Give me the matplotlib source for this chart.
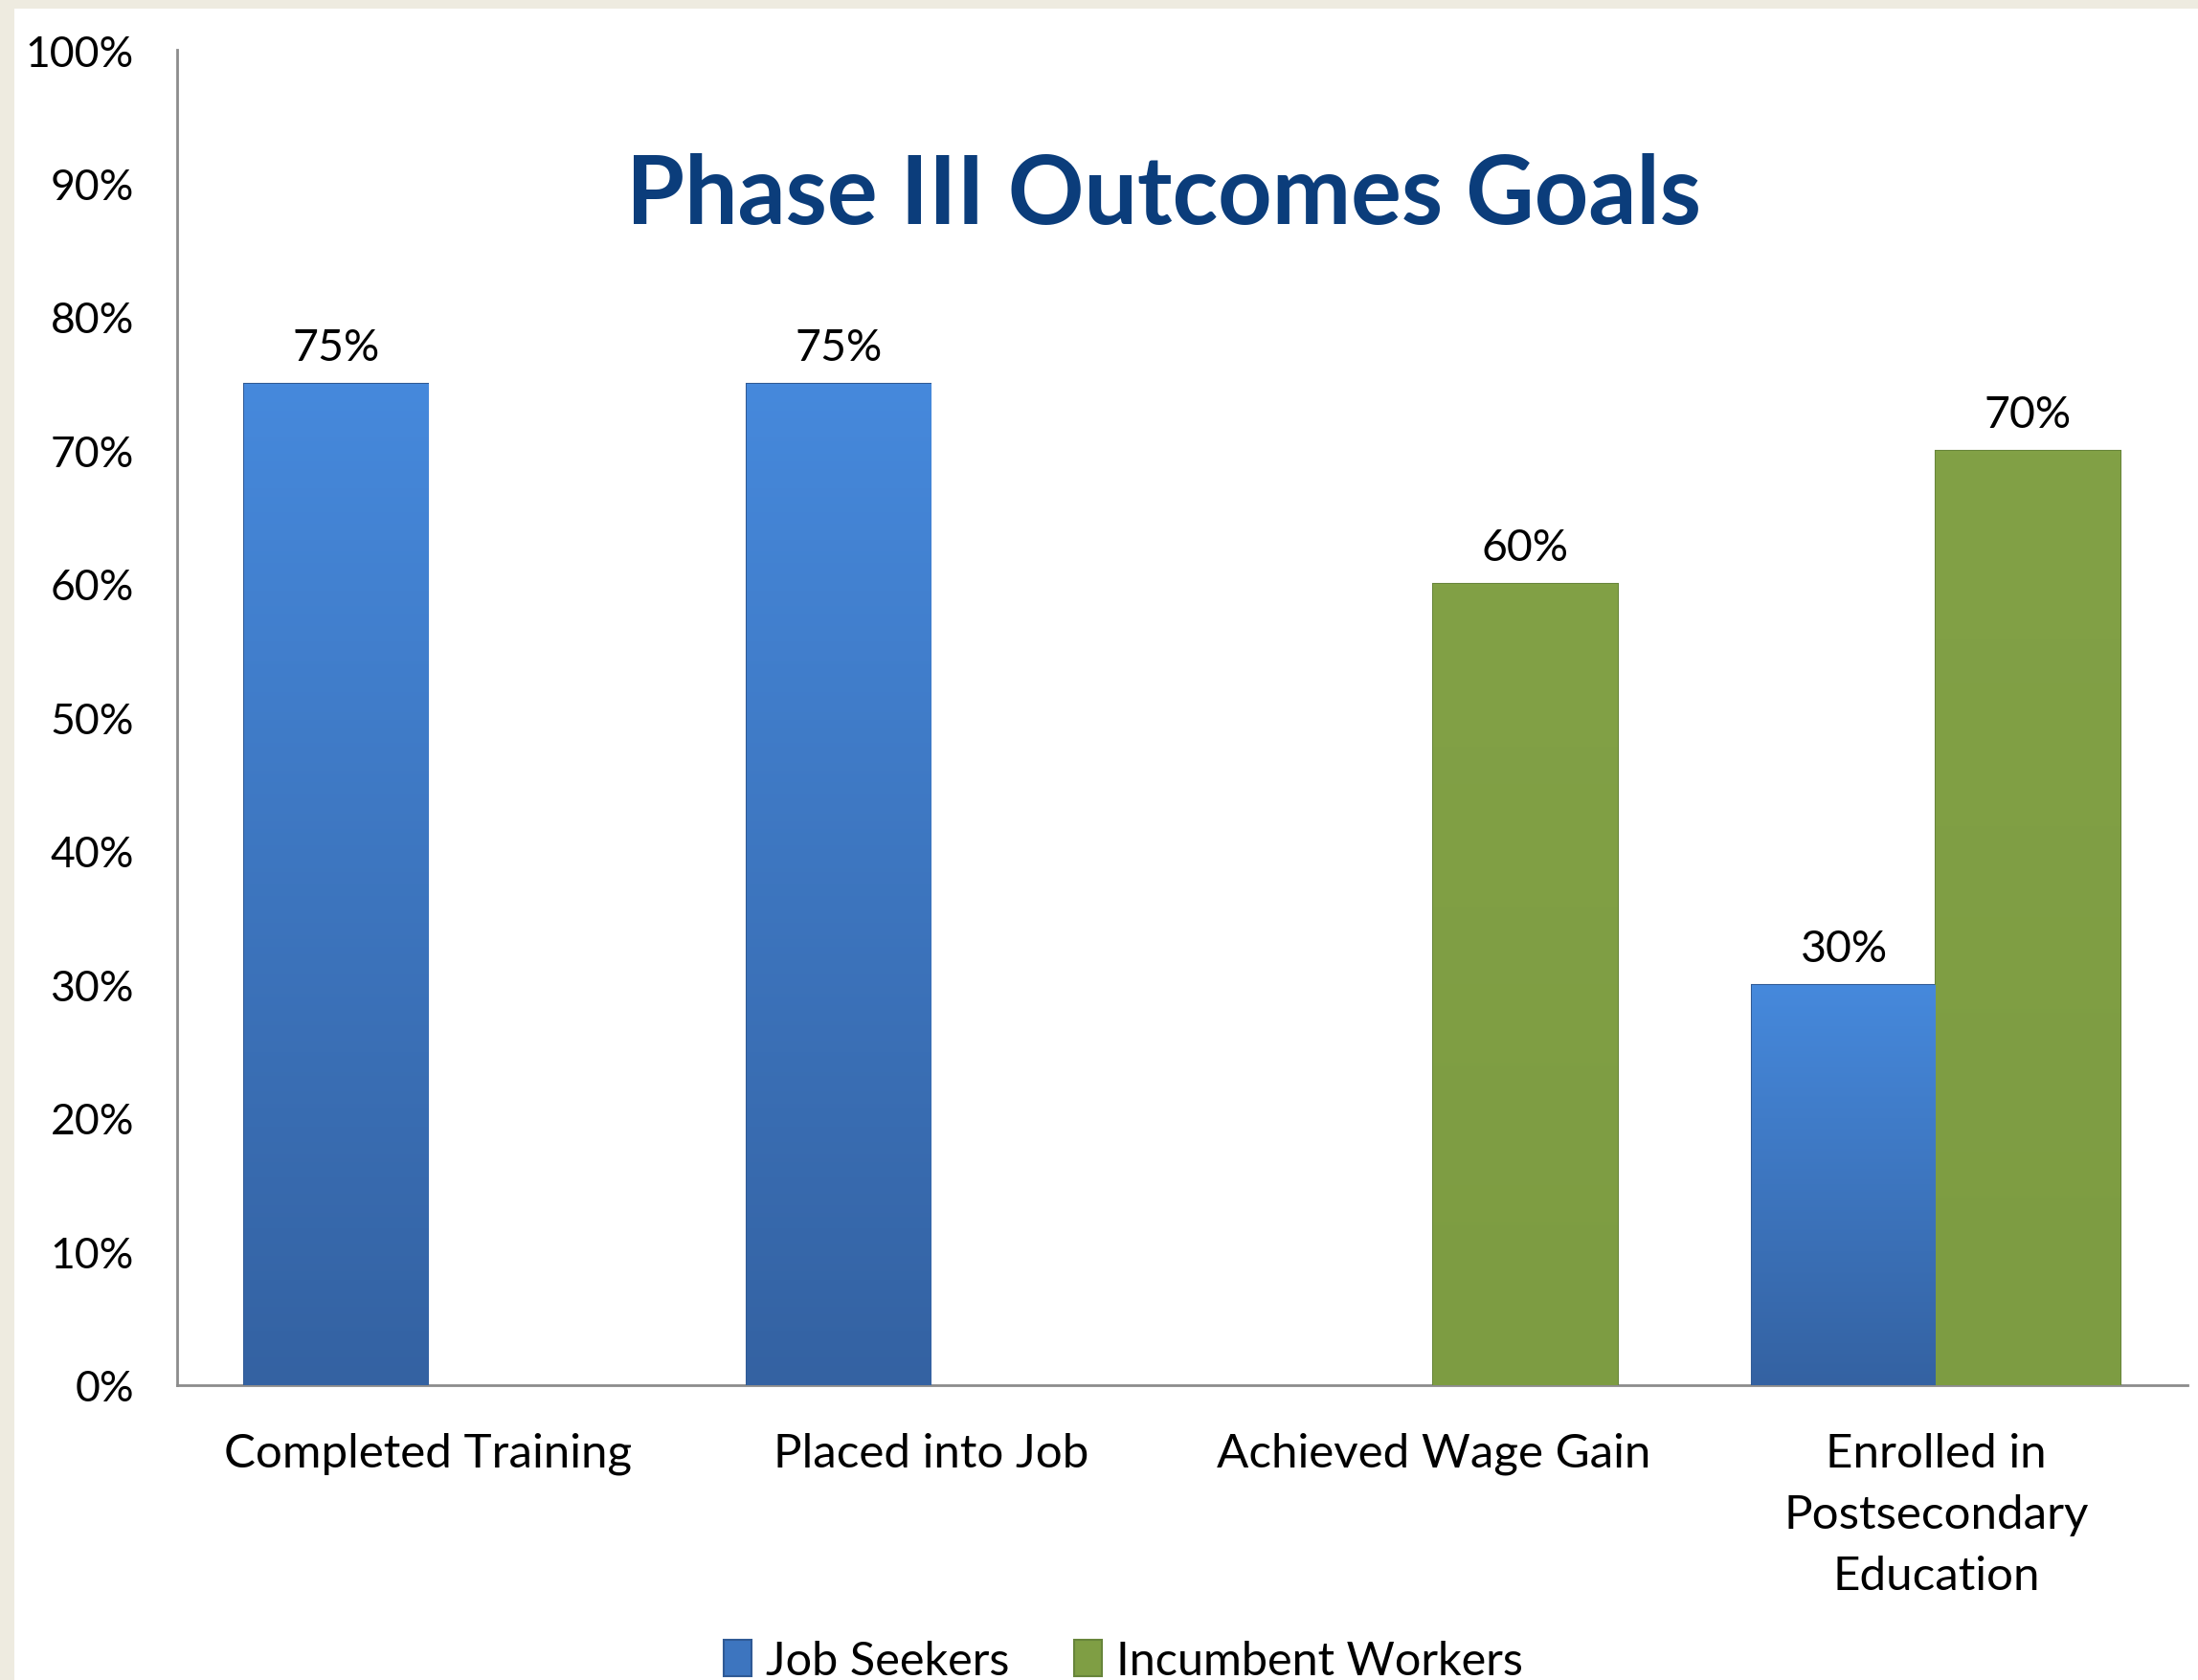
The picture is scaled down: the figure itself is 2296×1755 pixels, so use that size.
import numpy as np
import matplotlib
matplotlib.use("Agg")
import matplotlib.pyplot as plt
from matplotlib.colors import LinearSegmentedColormap
from matplotlib.patches import Rectangle

plt.rcParams['font.family'] = ['Lato', 'DejaVu Sans']

categories = ['Completed Training', 'Placed into Job', 'Achieved Wage Gain',
              'Enrolled in\nPostsecondary\nEducation']
job_seekers = [75, 75, np.nan, 30]
incumbent_workers = [np.nan, np.nan, 60, 70]
yticks = [0, 10, 20, 30, 40, 50, 60, 70, 80, 90, 100]

fig = plt.figure(figsize=(22.96, 17.56), dpi=100)
fig.patch.set_facecolor('#eeebe0')
# white panel inside the beige frame
fig.add_artist(Rectangle((15 / 2296, 0), 1, 1 - 10 / 1756, transform=fig.transFigure,
                         facecolor='white', edgecolor='none', zorder=-5))

ax = fig.add_axes([184.5 / 2296, 1 - 1448 / 1756, (2285 - 184.5) / 2296, (1448 - 53) / 1756])
ax.set_facecolor('none')

x = np.arange(len(categories))
w = 0.366
blue_cmap = LinearSegmentedColormap.from_list('b', ['#4689dc', '#3462a2'])
green_cmap = LinearSegmentedColormap.from_list('g', ['#82a146', '#7d9c42'])

def draw(xs, vals, cmap, edge, label):
    bars = ax.bar(xs, vals, w, color=cmap(0.5), edgecolor=edge, linewidth=1.5,
                  label=label, zorder=3)
    for b, v in zip(bars, vals):
        if np.isnan(v):
            continue
        x0 = b.get_x()
        im = ax.imshow(np.linspace(0, 1, 256).reshape(-1, 1), cmap=cmap, aspect='auto',
                       origin='upper', extent=[x0, x0 + b.get_width(), 0, v], zorder=3.5)
        im.set_clip_path(b)
        ax.text(b.get_x() + b.get_width() / 2, v + 1.2, f'{v:.0f}%', ha='center',
                va='bottom', fontsize=33.5, color='black')
    return bars

draw(x - w / 2, job_seekers, blue_cmap, '#2f5a95', 'Job Seekers')
draw(x + w / 2, incumbent_workers, green_cmap, '#67853a', 'Incumbent Workers')

ax.set_xlim(-0.5, 3.5)
ax.set_ylim(0, 100)
ax.set_yticks(yticks)
ax.set_yticklabels([f'{t}%' for t in yticks], fontsize=32)
ax.set_xticks(x)
ax.set_xticklabels(categories, fontsize=35.5, linespacing=1.56, va='top')
ax.tick_params(axis='y', length=0, pad=32)
ax.tick_params(axis='x', length=0, pad=35)
for s in ['top', 'right']:
    ax.spines[s].set_visible(False)
for s in ['left', 'bottom']:
    ax.spines[s].set_color('#8c8c8c')
    ax.spines[s].set_linewidth(2)

ax.text(0.491, 0.891, 'Phase III Outcomes Goals', transform=ax.transAxes, ha='center',
        va='center', fontsize=71, fontweight='bold', color='#0b3d7b')

leg = fig.legend(loc='lower center', bbox_to_anchor=(0.511, -0.026), ncol=2, frameon=False,
                 fontsize=35, handlelength=0.6, handleheight=0.8, handletextpad=0.3,
                 columnspacing=1.4)

fig.savefig('out.png', dpi=100)
